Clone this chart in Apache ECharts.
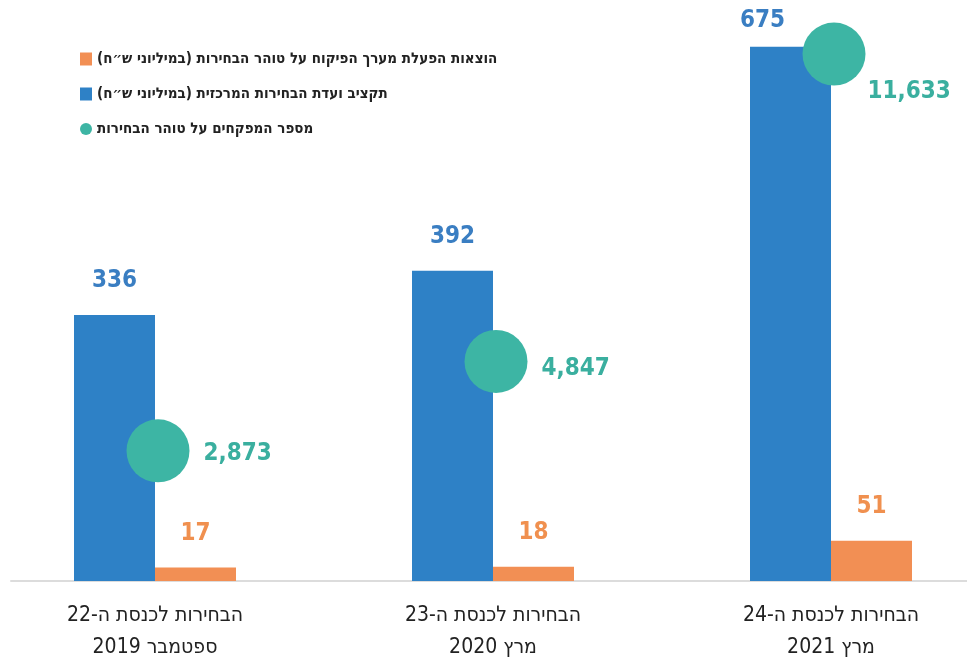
<!DOCTYPE html>
<html>
<head>
<meta charset="utf-8">
<script src="https://cdn.jsdelivr.net/npm/echarts@6/dist/echarts.min.js"></script>
<style>
  html, body { margin: 0; padding: 0; background: #fff; }
  #main { width: 967px; height: 661px; }
</style>
</head>
<body>
<div id="main" dir="rtl"></div>
<script>
// נתונים
var elections = ['הבחירות לכנסת ה-22', 'הבחירות לכנסת ה-23', 'הבחירות לכנסת ה-24'];
var dates = ['ספטמבר 2019', 'מרץ 2020', 'מרץ 2021'];
var budget = [336, 392, 675];        // תקציב ועדת הבחירות המרכזית
var opsCost = [17, 18, 51];          // הוצאות הפעלת מערך הפיקוח
var monitors = [2873, 4847, 11633];  // מספר המפקחים

var nameOps = 'הוצאות הפעלת מערך הפיקוח על טוהר הבחירות (במיליוני ש״ח)';
var nameBudget = 'תקציב ועדת הבחירות המרכזית (במיליוני ש״ח)';
var nameMon = 'מספר המפקחים על טוהר הבחירות';

var cats = elections.map(function (e, i) { return e + '\n' + dates[i]; });

var numFont = 'DejaVu Sans Condensed';
var teal = '#3db5a4';
var blue = '#2e81c6';
var orange = '#f28f54';

// הזזות תוויות (העיגול מכסה את התווית בעמודה האחרונה)
var budgetLabelOff = [[0, 0], [0, 0], [-28, 8]];
var monLabelOff = [[0, 3], [0, 7], [-12, 38]];

var chart = echarts.init(document.getElementById('main'));
chart.setOption({
    animation: false,
    backgroundColor: '#fff',
    legend: {
        orient: 'vertical',
        left: 75,
        top: 46,
        align: 'left',
        itemWidth: 12,
        itemHeight: 13,
        itemGap: 19,
        data: [
            {name: nameOps, icon: 'rect'},
            {name: nameBudget, icon: 'rect'},
            {name: nameMon, icon: 'circle'}
        ],
        textStyle: {
            fontFamily: numFont,
            fontWeight: 'bold',
            fontSize: 15,
            lineHeight: 16,
            color: '#222'
        }
    },
    grid: [
        {left: -14, right: -33, top: 27, bottom: 80, outerBoundsMode: 'none'},
        {left: 11, right: 0, top: 27, bottom: 80, outerBoundsMode: 'none'}
    ],
    xAxis: [
        {
            type: 'category',
            gridIndex: 0,
            data: cats,
            axisLine: {show: false},
            axisTick: {show: false},
            axisLabel: {
                margin: 19,
                fontFamily: numFont,
                fontSize: 21,
                lineHeight: 32,
                color: '#222'
            }
        },
        {
            type: 'value',
            gridIndex: 1,
            min: 0,
            max: 1,
            axisLine: {show: true, lineStyle: {color: '#dcdcdc', width: 2}},
            axisTick: {show: false},
            axisLabel: {show: false},
            splitLine: {show: false}
        }
    ],
    yAxis: [
        {type: 'value', gridIndex: 0, min: 0, max: 700, show: false},
        {type: 'value', gridIndex: 0, min: 0, max: 12230, show: false},
        {type: 'value', gridIndex: 1, min: 0, max: 1, show: false}
    ],
    series: [
        {
            name: nameBudget,
            type: 'bar',
            barWidth: 81,
            barGap: '0%',
            data: budget.map(function (v, i) {
                return {value: v, label: {offset: budgetLabelOff[i]}};
            }),
            itemStyle: {color: blue},
            label: {
                show: true,
                position: 'top',
                distance: 22,
                fontFamily: numFont,
                fontWeight: 'bold',
                fontSize: 24,
                color: '#3a7ec2'
            }
        },
        {
            name: nameOps,
            type: 'bar',
            barWidth: 81,
            barGap: '0%',
            data: opsCost,
            itemStyle: {color: orange},
            label: {
                show: true,
                position: 'top',
                distance: 22,
                fontFamily: numFont,
                fontWeight: 'bold',
                fontSize: 24,
                color: '#f0904f'
            }
        },
        {
            name: nameMon,
            type: 'scatter',
            yAxisIndex: 1,
            symbol: 'circle',
            symbolSize: 63,
            symbolOffset: [3, 0],
            itemStyle: {color: teal, opacity: 1},
            data: monitors.map(function (v, i) {
                return {value: v, label: {offset: monLabelOff[i]}};
            }),
            label: {
                show: true,
                position: 'right',
                distance: 14,
                formatter: function (p) {
                    return echarts.format.addCommas(p.value);
                },
                fontFamily: numFont,
                fontWeight: 'bold',
                fontSize: 24,
                color: '#3aaf9f'
            }
        }
    ]
});
</script>
</body>
</html>
